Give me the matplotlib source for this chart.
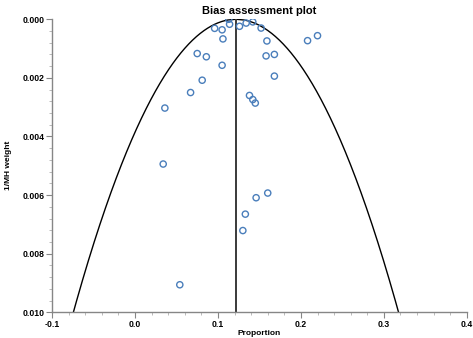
import numpy as np
import matplotlib
matplotlib.use("Agg")
import matplotlib.pyplot as plt
from matplotlib.ticker import MultipleLocator, FormatStrFormatter

# Study points
proportion = [0.113, 0.114, 0.096, 0.105, 0.106, 0.075, 0.086, 0.105, 0.081, 0.067,
              0.036, 0.034, 0.054, 0.126, 0.134, 0.142, 0.152, 0.159, 0.158, 0.168,
              0.168, 0.208, 0.220, 0.138, 0.142, 0.145, 0.160, 0.146, 0.133, 0.130]
inv_weight = [0.00000, 0.00017, 0.00031, 0.00036, 0.00067, 0.00117, 0.00128, 0.00157, 0.00208, 0.00250,
              0.00303, 0.00494, 0.00906, 0.00024, 0.00013, 0.00009, 0.00030, 0.00074, 0.00125, 0.00120,
              0.00194, 0.00073, 0.00056, 0.00260, 0.00274, 0.00286, 0.00593, 0.00609, 0.00665, 0.00721]

pooled = 0.1217
z = 1.96
title = "Bias assessment plot"
xlabel = "Proportion"
ylabel = "1/MH weight"

plt.rcParams['font.family'] = ['Liberation Sans', 'DejaVu Sans']

fig = plt.figure(figsize=(4.73, 3.38), dpi=100)
ax = fig.add_axes([0.110, 0.076, 0.877, 0.867])

yy = np.linspace(0, 0.0102, 400)
ax.plot(pooled - z * np.sqrt(yy), yy, color='black', lw=1.0)
ax.plot(pooled + z * np.sqrt(yy), yy, color='black', lw=1.0)
ax.plot([pooled, pooled], [0, 0.010], color='#3a3a3a', lw=1.4)

ax.scatter(proportion, inv_weight, s=20, facecolors='none', edgecolors='#4a7ebb',
           linewidths=1.0, zorder=3)

ax.set_xlim(-0.1, 0.4)
ax.set_ylim(0.010, 0.0)
ax.xaxis.set_major_locator(MultipleLocator(0.1))
ax.xaxis.set_minor_locator(MultipleLocator(0.02))
ax.yaxis.set_major_locator(MultipleLocator(0.002))
ax.yaxis.set_minor_locator(MultipleLocator(0.0004))
ax.xaxis.set_major_formatter(FormatStrFormatter('%.1f'))
ax.yaxis.set_major_formatter(FormatStrFormatter('%.3f'))

for s in ['top', 'right']:
    ax.spines[s].set_visible(False)
for s in ['left', 'bottom']:
    ax.spines[s].set_color('#868686')
    ax.spines[s].set_linewidth(1.0)

ax.tick_params(which='major', length=4, width=0.8, color='#868686', labelsize=6.2, pad=1.5)
ax.tick_params(which='minor', length=2, width=0.6, color='#b0b0b0')
for lab in ax.get_xticklabels() + ax.get_yticklabels():
    lab.set_fontweight('bold')

ax.set_title(title, fontsize=8, fontweight='bold', pad=4)
ax.set_xlabel(xlabel, fontsize=6, fontweight='bold', labelpad=1)
ax.set_ylabel(ylabel, fontsize=6, fontweight='bold')
ax.yaxis.set_label_coords(-0.097, 0.5)

fig.savefig("out.png", dpi=100)
